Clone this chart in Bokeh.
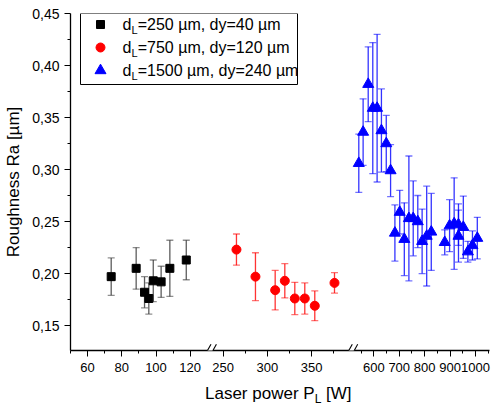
import numpy as np
from bokeh.plotting import figure
from bokeh.models import (ColumnDataSource, Whisker, TeeHead, FixedTicker, CustomJSTickFormatter,
                          Range1d, Label, BoxAnnotation, PolyAnnotation, Arrow, Div)
from bokeh.layouts import column
from bokeh.embed import file_html
from bokeh.resources import INLINE

# ---------------- data ----------------
series_labels = ["=250 µm, dy=40 µm", "=750 µm, dy=120 µm", "=1500 µm, dy=240 µm"]

p250 = [73.8, 88.4, 93.3, 95.8, 98.4, 103.0, 108.1, 117.7]
ra250 = [0.197, 0.205, 0.182, 0.176, 0.193, 0.192, 0.205, 0.213]
err250 = [0.018, 0.020, 0.015, 0.015, 0.020, 0.015, 0.027, 0.019]

p750 = [265.0, 286.5, 308.8, 319.7, 331.0, 342.3, 353.6, 375.9]
ra750 = [0.223, 0.197, 0.184, 0.193, 0.176, 0.176, 0.169, 0.191]
err750 = [0.015, 0.023, 0.019, 0.0165, 0.0155, 0.015, 0.0143, 0.0098]

p1500 = [541, 558, 578, 596, 613, 630, 649, 666, 683, 702, 720, 738, 755, 773, 790, 808, 826,
         879, 898, 916, 933, 933, 952, 970, 988, 1007]
ra1500 = [0.306, 0.336, 0.382, 0.359, 0.359, 0.3375, 0.325, 0.299,
          0.239, 0.259, 0.233, 0.253, 0.253, 0.250, 0.231, 0.236, 0.240,
          0.230, 0.246, 0.248, 0.236, 0.247, 0.2445, 0.221, 0.227, 0.234]
err1500 = [0.028, 0.032, 0.036, 0.063, 0.071, 0.040, 0.027, 0.025,
           0.027, 0.021, 0.035, 0.060, 0.036, 0.025, 0.031, 0.048, 0.037,
           0.012, 0.025, 0.044, 0.025, 0.020, 0.030, 0.010, 0.014, 0.020]

x_major = [60, 80, 100, 120, 250, 300, 350, 600, 700, 800, 900, 1000]
x_major_labels = ["60", "80", "100", "120", "250", "300", "350", "600", "700", "800", "900", "1000"]
x_minor = [50, 70, 90, 110, 275, 325, 375, 550, 650, 750, 850, 950, 1050]
y_major = [0.15, 0.20, 0.25, 0.30, 0.35, 0.40, 0.45]
y_minor = [0.175, 0.225, 0.275, 0.325, 0.375, 0.425]

# ---------------- broken x axis: three linear segments ----------------
# (data start, data end, axis start, axis slope)
SEGMENTS = [(50, 135, 0.0, 1.71),
            (235, 395, 152.7 - 15 * 0.884, 0.884),
            (525, 1050, 303.3 - 75 * 0.2543, 0.2543)]
BREAKS = [139.7, 281.0]
X_END = 419.0


def fwd(vals):
    out = []
    for v in np.atleast_1d(np.asarray(vals, float)):
        for (a, b, u0, k) in SEGMENTS:
            if v <= b or (a, b, u0, k) == SEGMENTS[-1]:
                out.append(u0 + (v - a) * k)
                break
    return np.array(out)


Y0, Y1 = 0.126, 0.45
PX_Y = (Y1 - Y0) / 337.0   # data units per pixel vertically

p = figure(width=492, height=384, output_backend="svg", toolbar_location=None,
           x_range=Range1d(0, X_END), y_range=Range1d(Y0, Y1),
           min_border_left=70, min_border_right=3, min_border_top=13, min_border_bottom=34)
p.outline_line_color = None
p.xgrid.visible = False
p.ygrid.visible = False
p.background_fill_color = "white"
p.border_fill_color = "white"

FONT = "Liberation Sans"

# x axis
p.xaxis.ticker = FixedTicker(ticks=list(fwd(x_major)), minor_ticks=list(fwd(x_minor)))
p.xaxis.formatter = CustomJSTickFormatter(
    args=dict(pos=list(fwd(x_major)), lab=x_major_labels),
    code="""let b=0; for (let i=0;i<pos.length;i++){ if (Math.abs(pos[i]-tick)<Math.abs(pos[b]-tick)) b=i;} return lab[b];""")
# y axis
p.yaxis.ticker = FixedTicker(ticks=y_major, minor_ticks=y_minor)
p.yaxis.formatter = CustomJSTickFormatter(code="return tick.toFixed(2).replace('.', ',');")

for ax in (p.xaxis[0], p.yaxis[0]):
    ax.axis_line_color = "black"
    ax.axis_line_width = 1.3
    ax.major_tick_line_color = "black"
    ax.minor_tick_line_color = "black"
    ax.major_tick_in = 0
    ax.minor_tick_in = 0
    ax.major_tick_out = 6
    ax.minor_tick_out = 3
    ax.major_label_text_font = FONT
    ax.major_label_text_color = "black"

p.xaxis.major_label_text_font_size = "13px"
p.yaxis.major_label_text_font_size = "14px"
p.xaxis.major_label_standoff = 6
p.yaxis.major_label_standoff = 5

p.yaxis.axis_label = "Roughness Ra [µm]"
p.yaxis.axis_label_text_font = FONT
p.yaxis.axis_label_text_font_size = "17px"
p.yaxis.axis_label_text_font_style = "normal"
p.yaxis.axis_label_text_color = "black"
p.yaxis.axis_label_standoff = 6

# ---------------- series ----------------
series = [
    (p250, ra250, err250, "square", 8, "black", "#333333"),
    (p750, ra750, err750, "circle", 9, "#ff0000", "#ff0000"),
    (p1500, ra1500, err1500, "triangle", 11, "#0000ff", "#0000ff"),
]

for xs, ys, es, marker, size, col, ecol in series:
    ys = np.array(ys)
    es = np.array(es)
    src = ColumnDataSource(dict(u=fwd(xs), y=ys, lo=ys - es, hi=ys + es))
    w = Whisker(source=src, base="u", upper="hi", lower="lo", dimension="height",
                line_color=ecol, line_width=1.3, line_alpha=0.8, level="underlay")
    w.upper_head = TeeHead(size=7, line_color=ecol, line_width=1.3, line_alpha=0.55)
    w.lower_head = TeeHead(size=7, line_color=ecol, line_width=1.3, line_alpha=0.55)
    p.add_layout(w)
    p.scatter("u", "y", source=src, marker=marker, size=size, fill_color=col, line_color=col)

# ---------------- axis break marks ----------------
for c in BREAKS:
    dx, dy, off = 3.5, 6.3 * PX_Y, 2.7
    p.add_layout(PolyAnnotation(xs=[c - off - dx, c - off + dx, c + off + dx, c + off - dx],
                                ys=[Y0 - dy, Y0 + dy, Y0 + dy, Y0 - dy],
                                fill_color="white", fill_alpha=1, line_alpha=0, level="overlay"))
    for s in (-off, off):
        p.add_layout(Arrow(end=None, x_start=c + s - dx, y_start=Y0 - dy, x_end=c + s + dx, y_end=Y0 + dy,
                           line_color="black", line_width=1.1, level="overlay"))

# ---------------- legend ----------------
p.add_layout(BoxAnnotation(left=10, right=227, top=Y1, bottom=Y1 - 71 * PX_Y,
                           fill_color="white", fill_alpha=1, line_color="black", line_alpha=1,
                           line_width=1, level="underlay"))
rows_y = [Y1 - 11 * PX_Y, Y1 - 34 * PX_Y, Y1 - 57 * PX_Y]
for (xs, ys, es, marker, size, col, ecol), ry, lab in zip(series, rows_y, series_labels):
    p.add_layout(Label(x=52, y=ry, text="d", text_font=FONT, text_font_size="16px",
                       text_baseline="middle", text_color="black"))
    p.add_layout(Label(x=60.9, y=ry - 5 * PX_Y, text="L", text_font=FONT, text_font_size="11px",
                       text_baseline="middle", text_color="black"))
    p.add_layout(Label(x=67.2, y=ry, text=lab, text_font=FONT, text_font_size="16px",
                       text_baseline="middle", text_color="black"))
leg_src = ColumnDataSource(dict(u=[30, 30, 30], y=rows_y,
                                m=["square", "circle", "triangle"],
                                s=[8, 9, 11], c=["black", "#ff0000", "#0000ff"]))
p.scatter("u", "y", source=leg_src, marker="m", size="s", fill_color="c", line_color="c")

# ---------------- x axis title with subscript (HTML text) ----------------
xtitle = Div(text='<div style="font-family:\'Liberation Sans\';font-size:17px;line-height:20px;'
                  'padding-left:205px;color:black;white-space:nowrap">Laser power P'
                  '<sub style="font-size:12px;line-height:0">L</sub> [W]</div>',
             width=492, height=22, margin=0)

layout = column(p, xtitle, spacing=0)
open("out.html", "w").write(file_html(layout, INLINE))
